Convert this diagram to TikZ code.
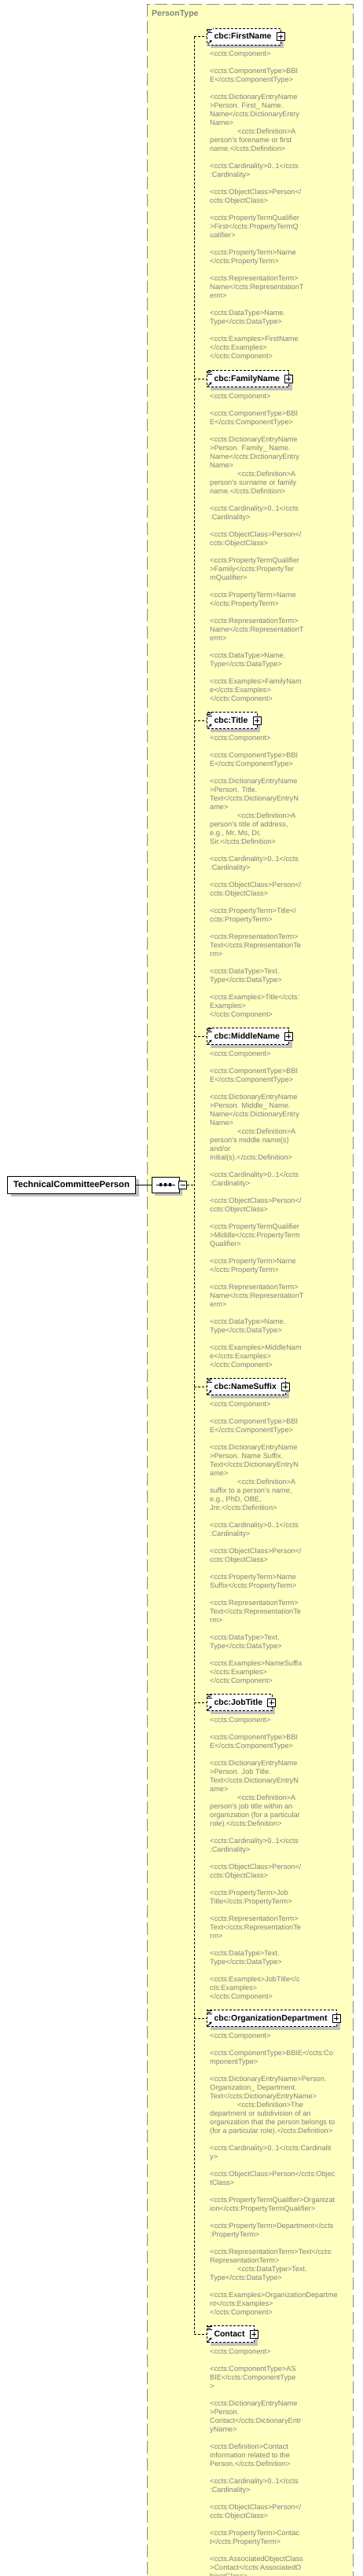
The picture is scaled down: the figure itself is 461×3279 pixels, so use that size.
\documentclass[tikz,border=0pt]{standalone}
\usepackage{fontspec}
\usepackage{tikz}
\usetikzlibrary{positioning,shadows,shapes.misc,arrows.meta}
\newfontfamily\xsfont{Liberation Sans}
\definecolor{xsyellow}{RGB}{255,255,192}
\definecolor{xsgrey}{RGB}{128,128,128}
\definecolor{xsframe}{RGB}{140,140,140}
\definecolor{xsshadow}{RGB}{192,192,192}
\tikzset{
	elbox/.style={draw=black, fill=white, dash pattern=on 3pt off 2pt, line width=1pt,
		font=\xsfont\bfseries\fontsize{10.5}{12}\selectfont, minimum height=21pt,
		text height=7.5pt, text depth=1pt, inner xsep=0pt, inner ysep=0pt, anchor=west,
		drop shadow={shadow xshift=4pt, shadow yshift=-4pt, fill=xsshadow, opacity=1}},
	rootbox/.style={draw=black, fill=white, line width=1pt,
		font=\xsfont\bfseries\fontsize{11.3}{13}\selectfont, minimum height=22pt, minimum width=163pt,
		text height=8pt, text depth=1pt, inner xsep=5pt, inner ysep=0pt, anchor=west,
		drop shadow={shadow xshift=4pt, shadow yshift=-4pt, fill=xsshadow, opacity=1}},
	annot/.style={font=\xsfont\fontsize{9.2}{11}\selectfont, text=xsgrey, align=left, inner sep=0pt},
	xsline/.style={dash pattern=on 3pt off 2pt, line width=1pt},
	plusbox/.style={draw, fill=white, minimum size=10pt, inner sep=0pt, line width=0.8pt},
}
% element box: name, y, label
\def\xselem#1#2#3{%
	\node[elbox] (#1) at (263,#2) {\hspace*{9pt}#3\hspace*{12pt}};
	\draw[xsline] (spine |- #1.west) -- (#1.west);
	\fill[white] (#1.north west) ++(0.5,0.5) rectangle ++(7,6);
	\draw[line width=0.8pt] (#1.north west) ++(1,1.5) -- ++(6,0) ++(-6,2) -- ++(4,0) ++(-4,2) -- ++(6,0);
	\draw[line width=1pt, -{Stealth[length=3pt,width=3.5pt]}] (#1.south west) ++(1.5,-1.5) -- ++(5,-5);
	\node[plusbox] (#1plus) at ([xshift=-1pt]#1.east) {};
	\draw[line width=0.8pt] ([xshift=-3pt]#1plus.center) -- ([xshift=3pt]#1plus.center)
		([yshift=-3pt]#1plus.center) -- ([yshift=3pt]#1plus.center);
}

\begin{document}
\begin{tikzpicture}[x=1pt, y=-1pt]
	%%%%% FRAME %%%%%
	\useasboundingbox (0,0) rectangle (461,3279);
	\clip (0,0) rectangle (461,3279);

	\draw[fill=xsyellow, draw=xsframe, line width=1pt, dash pattern=on 16pt off 6pt] (187,5) rectangle (449,3320);
	\node[anchor=west, inner sep=0pt, text=xsgrey, font=\xsfont\bfseries\fontsize{10.5}{12}\selectfont] (ptype) at (193,18) {PersonType};

	\coordinate (spine) at (247,1508);

	%%%%% ROOT AND SEQUENCE %%%%%
	\node[rootbox] (tcp) at (9,1508) {TechnicalCommitteePerson};
	\node[draw, fill=white, line width=1pt, chamfered rectangle, chamfered rectangle xsep=5pt,
		minimum width=35pt, minimum height=20pt, inner sep=0pt,
		drop shadow={shadow xshift=4pt, shadow yshift=-4pt, fill=xsshadow, opacity=1}] (seq) at (210.5,1508) {};
	\draw[line width=1pt] ([xshift=-12pt]seq.center) -- ([xshift=12pt]seq.center);
	\foreach \dx in {-6,0,6}
		\fill ([xshift=\dx pt]seq.center) +(-1.6,-1.6) rectangle +(1.6,1.6);
	\node[plusbox] (seqminus) at (232.5,1508) {};
	\draw[line width=0.8pt] ([xshift=-3pt]seqminus.center) -- ([xshift=3pt]seqminus.center);
	\draw[line width=1pt] (tcp.east) -- (seq.west);
	\draw[xsline] (seqminus.east) -- (spine);

	%%%%% ELEMENTS %%%%%
	\xselem{first}{46.5}{cbc:FirstName}
	\xselem{family}{482}{cbc:FamilyName}
	\xselem{title}{917}{cbc:Title}
	\xselem{middle}{1319}{cbc:MiddleName}
	\xselem{suffix}{1765}{cbc:NameSuffix}
	\xselem{job}{2167}{cbc:JobTitle}
	\xselem{dept}{2569}{cbc:OrganizationDepartment}
	\xselem{contact}{2971}{Contact}
	\draw[xsline] (spine |- first.west) -- (spine |- contact.west);

	%%%%% ANNOTATIONS %%%%%
	\node[annot, below right=7.8pt and 4pt of first.south west] (firstann) {<ccts:Component>\\[11pt]
<ccts:ComponentType>BBI\\
E</ccts:ComponentType>\\[11pt]
<ccts:DictionaryEntryName\\
>Person. First\_ Name.\\
Name</ccts:DictionaryEntry\\
Name>\\
\hspace*{35pt}<ccts:Definition>A\\
person's forename or first\\
name.</ccts:Definition>\\[11pt]
<ccts:Cardinality>0..1</ccts\\
:Cardinality>\\[11pt]
<ccts:ObjectClass>Person</\\
ccts:ObjectClass>\\[11pt]
<ccts:PropertyTermQualifier\\
>First</ccts:PropertyTermQ\\
ualifier>\\[11pt]
<ccts:PropertyTerm>Name\\
</ccts:PropertyTerm>\\[11pt]
<ccts:RepresentationTerm>\\
Name</ccts:RepresentationT\\
erm>\\[11pt]
<ccts:DataType>Name.\\
Type</ccts:DataType>\\[11pt]
<ccts:Examples>FirstName\\
</ccts:Examples>\\
</ccts:Component>};

	\node[annot, below right=7.8pt and 4pt of family.south west] (familyann) {<ccts:Component>\\[11pt]
<ccts:ComponentType>BBI\\
E</ccts:ComponentType>\\[11pt]
<ccts:DictionaryEntryName\\
>Person. Family\_ Name.\\
Name</ccts:DictionaryEntry\\
Name>\\
\hspace*{35pt}<ccts:Definition>A\\
person's surname or family\\
name.</ccts:Definition>\\[11pt]
<ccts:Cardinality>0..1</ccts\\
:Cardinality>\\[11pt]
<ccts:ObjectClass>Person</\\
ccts:ObjectClass>\\[11pt]
<ccts:PropertyTermQualifier\\
>Family</ccts:PropertyTer\\
mQualifier>\\[11pt]
<ccts:PropertyTerm>Name\\
</ccts:PropertyTerm>\\[11pt]
<ccts:RepresentationTerm>\\
Name</ccts:RepresentationT\\
erm>\\[11pt]
<ccts:DataType>Name.\\
Type</ccts:DataType>\\[11pt]
<ccts:Examples>FamilyNam\\
e</ccts:Examples>\\
</ccts:Component>};

	\node[annot, below right=7.8pt and 4pt of title.south west] (titleann) {<ccts:Component>\\[11pt]
<ccts:ComponentType>BBI\\
E</ccts:ComponentType>\\[11pt]
<ccts:DictionaryEntryName\\
>Person. Title.\\
Text</ccts:DictionaryEntryN\\
ame>\\
\hspace*{35pt}<ccts:Definition>A\\
person's title of address,\\
e.g., Mr, Ms, Dr,\\
Sir.</ccts:Definition>\\[11pt]
<ccts:Cardinality>0..1</ccts\\
:Cardinality>\\[11pt]
<ccts:ObjectClass>Person</\\
ccts:ObjectClass>\\[11pt]
<ccts:PropertyTerm>Title</\\
ccts:PropertyTerm>\\[11pt]
<ccts:RepresentationTerm>\\
Text</ccts:RepresentationTe\\
rm>\\[11pt]
<ccts:DataType>Text.\\
Type</ccts:DataType>\\[11pt]
<ccts:Examples>Title</ccts:\\
Examples>\\
</ccts:Component>};

	\node[annot, below right=7.8pt and 4pt of middle.south west] (middleann) {<ccts:Component>\\[11pt]
<ccts:ComponentType>BBI\\
E</ccts:ComponentType>\\[11pt]
<ccts:DictionaryEntryName\\
>Person. Middle\_ Name.\\
Name</ccts:DictionaryEntry\\
Name>\\
\hspace*{35pt}<ccts:Definition>A\\
person's middle name(s)\\
and/or\\
initial(s).</ccts:Definition>\\[11pt]
<ccts:Cardinality>0..1</ccts\\
:Cardinality>\\[11pt]
<ccts:ObjectClass>Person</\\
ccts:ObjectClass>\\[11pt]
<ccts:PropertyTermQualifier\\
>Middle</ccts:PropertyTerm\\
Qualifier>\\[11pt]
<ccts:PropertyTerm>Name\\
</ccts:PropertyTerm>\\[11pt]
<ccts:RepresentationTerm>\\
Name</ccts:RepresentationT\\
erm>\\[11pt]
<ccts:DataType>Name.\\
Type</ccts:DataType>\\[11pt]
<ccts:Examples>MiddleNam\\
e</ccts:Examples>\\
</ccts:Component>};

	\node[annot, below right=7.8pt and 4pt of suffix.south west] (suffixann) {<ccts:Component>\\[11pt]
<ccts:ComponentType>BBI\\
E</ccts:ComponentType>\\[11pt]
<ccts:DictionaryEntryName\\
>Person. Name Suffix.\\
Text</ccts:DictionaryEntryN\\
ame>\\
\hspace*{35pt}<ccts:Definition>A\\
suffix to a person's name,\\
e.g., PhD, OBE,\\
Jnr.</ccts:Definition>\\[11pt]
<ccts:Cardinality>0..1</ccts\\
:Cardinality>\\[11pt]
<ccts:ObjectClass>Person</\\
ccts:ObjectClass>\\[11pt]
<ccts:PropertyTerm>Name\\
Suffix</ccts:PropertyTerm>\\[11pt]
<ccts:RepresentationTerm>\\
Text</ccts:RepresentationTe\\
rm>\\[11pt]
<ccts:DataType>Text.\\
Type</ccts:DataType>\\[11pt]
<ccts:Examples>NameSuffix\\
</ccts:Examples>\\
</ccts:Component>};

	\node[annot, below right=7.8pt and 4pt of job.south west] (jobann) {<ccts:Component>\\[11pt]
<ccts:ComponentType>BBI\\
E</ccts:ComponentType>\\[11pt]
<ccts:DictionaryEntryName\\
>Person. Job Title.\\
Text</ccts:DictionaryEntryN\\
ame>\\
\hspace*{35pt}<ccts:Definition>A\\
person's job title within an\\
organization (for a particular\\
role).</ccts:Definition>\\[11pt]
<ccts:Cardinality>0..1</ccts\\
:Cardinality>\\[11pt]
<ccts:ObjectClass>Person</\\
ccts:ObjectClass>\\[11pt]
<ccts:PropertyTerm>Job\\
Title</ccts:PropertyTerm>\\[11pt]
<ccts:RepresentationTerm>\\
Text</ccts:RepresentationTe\\
rm>\\[11pt]
<ccts:DataType>Text.\\
Type</ccts:DataType>\\[11pt]
<ccts:Examples>JobTitle</c\\
cts:Examples>\\
</ccts:Component>};

	\node[annot, below right=7.8pt and 4pt of dept.south west] (deptann) {<ccts:Component>\\[11pt]
<ccts:ComponentType>BBIE</ccts:Co\\
mponentType>\\[11pt]
<ccts:DictionaryEntryName>Person.\\
Organization\_ Department.\\
Text</ccts:DictionaryEntryName>\\
\hspace*{35pt}<ccts:Definition>The\\
department or subdivision of an\\
organization that the person belongs to\\
(for a particular role).</ccts:Definition>\\[11pt]
<ccts:Cardinality>0..1</ccts:Cardinalit\\
y>\\[11pt]
<ccts:ObjectClass>Person</ccts:Objec\\
tClass>\\[11pt]
<ccts:PropertyTermQualifier>Organizat\\
ion</ccts:PropertyTermQualifier>\\[11pt]
<ccts:PropertyTerm>Department</ccts\\
:PropertyTerm>\\[11pt]
<ccts:RepresentationTerm>Text</ccts:\\
RepresentationTerm>\\
\hspace*{35pt}<ccts:DataType>Text.\\
Type</ccts:DataType>\\[11pt]
<ccts:Examples>OrganizationDepartme\\
nt</ccts:Examples>\\
</ccts:Component>};

	\node[annot, below right=7.8pt and 4pt of contact.south west] (contactann) {<ccts:Component>\\[11pt]
<ccts:ComponentType>AS\\
BIE</ccts:ComponentType\\
>\\[11pt]
<ccts:DictionaryEntryName\\
>Person.\\
Contact</ccts:DictionaryEntr\\
yName>\\[11pt]
<ccts:Definition>Contact\\
information related to the\\
Person.</ccts:Definition>\\[11pt]
<ccts:Cardinality>0..1</ccts\\
:Cardinality>\\[11pt]
<ccts:ObjectClass>Person</\\
ccts:ObjectClass>\\[11pt]
<ccts:PropertyTerm>Contac\\
t</ccts:PropertyTerm>\\[11pt]
<ccts:AssociatedObjectClass\\
>Contact</ccts:AssociatedO\\
bjectClass>};
\end{tikzpicture}
\end{document}
